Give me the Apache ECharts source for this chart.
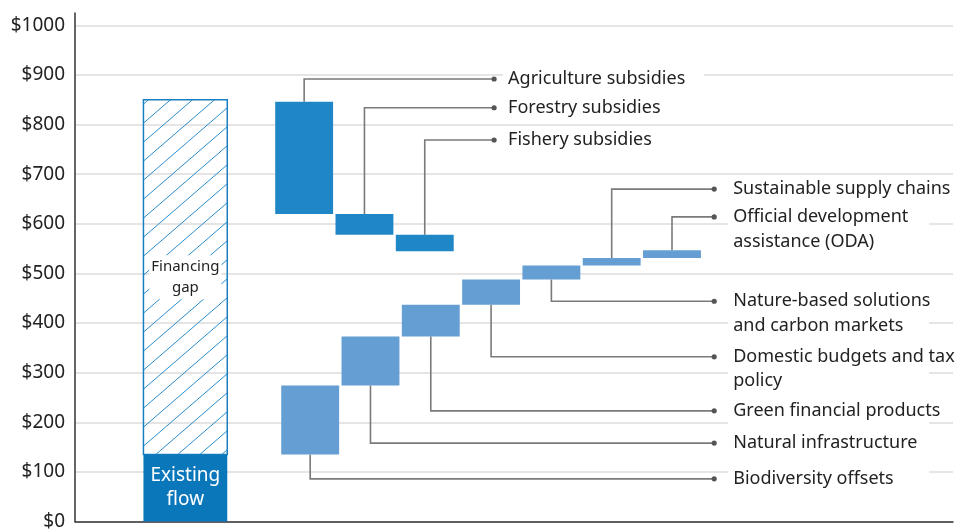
<!DOCTYPE html>
<html>
<head>
<meta charset="utf-8">
<script src="https://cdn.jsdelivr.net/npm/echarts@6/dist/echarts.min.js"></script>
<style>html,body{margin:0;padding:0;background:#fff}#c{width:965px;height:531px}</style>
</head>
<body>
<div id="c"></div>
<script>
// ---------------- data ----------------
const yTickValues = [0, 100, 200, 300, 400, 500, 600, 700, 800, 900, 1000];
const totalNeed = 850;          // total biodiversity finance need
const existingFlow = 135;       // existing flow
const reductionStart = 846;
const reductionNames = ['Agriculture subsidies', 'Forestry subsidies', 'Fishery subsidies'];
const reductionValues = [226, 42, 33];
const flowNames = ['Biodiversity offsets', 'Natural infrastructure', 'Green financial products',
  'Domestic budgets and tax\npolicy', 'Nature-based solutions\nand carbon markets',
  'Sustainable supply chains', 'Official development\nassistance (ODA)'];
const flowValues = [139, 99, 64, 51, 28, 15, 16];

// ---------------- layout (annotation levels in $ units) ----------------
const reductionLabelLevels = [892, 834, 769];
const flowLabelLevels = [86, 158, 223, 332, 444, 670, 614];

// ---------------- build ----------------
const FONT = '"Noto Sans", sans-serif';
const reductionBars = [];
let cur = reductionStart;
reductionValues.forEach((v, i) => {
  reductionBars.push([2.9 + i, cur - v, cur, 0.96]);
  cur -= v;
});
const flowBars = [];
cur = existingFlow;
flowValues.forEach((v, i) => {
  flowBars.push([3 + i, cur, cur + v, 0.96]);
  cur += v;
});

const leaders = [];
reductionBars.forEach((b, i) => leaders.push([b[0], b[1], b[2], reductionLabelLevels[i], 6.05, 9, reductionNames[i]]));
flowBars.forEach((b, i) => leaders.push([b[0], b[1], b[2], flowLabelLevels[i], 9.7, 14, flowNames[i]]));

// hatch pattern
const hc = document.createElement('canvas');
const HW = 22, HH = 19;
hc.width = HW; hc.height = HH;
const hx = hc.getContext('2d');
hx.strokeStyle = '#2a8ccc';
hx.lineWidth = 1;
[-HW, 0, HW].forEach(o => {
  hx.beginPath();
  hx.moveTo(o, HH);
  hx.lineTo(o + HW, 0);
  hx.stroke();
});

function rectItem(api, fill, extra) {
  const x = api.value(0), lo = api.value(1), hi = api.value(2), w = api.value(3);
  const p1 = api.coord([x - w / 2, hi]);
  const p2 = api.coord([x + w / 2, lo]);
  return Object.assign({
    type: 'rect',
    shape: { x: p1[0], y: p1[1], width: p2[0] - p1[0], height: p2[1] - p1[1] },
    style: { fill: fill }
  }, extra || {});
}

const chart = echarts.init(document.getElementById('c'), null, { renderer: 'canvas' });
chart.setOption({
  animation: false,
  backgroundColor: '#fff',
  grid: { left: 75, right: 12, top: 13, bottom: 7, containLabel: false },
  xAxis: {
    type: 'value', min: -0.9, max: 13.66,
    axisLine: { show: true, onZero: false, lineStyle: { color: '#333', width: 1.5 } },
    axisTick: { show: false }, axisLabel: { show: false }, splitLine: { show: false }
  },
  yAxis: {
    type: 'value', min: 0, max: 1025, interval: 100,
    axisLine: { show: true, onZero: false, lineStyle: { color: '#333', width: 1.5 } },
    axisTick: { show: false },
    axisLabel: {
      margin: 10, color: '#222', fontSize: 19, fontFamily: FONT,
      formatter: v => yTickValues.indexOf(v) >= 0 ? '$' + v : ''
    },
    splitLine: { show: true, showMaxLine: false, lineStyle: { color: '#dcdcdc', width: 1.5 } }
  },
  series: [
    {
      type: 'custom', name: 'Financing gap', z: 2,
      data: [[0.93, existingFlow, totalNeed, 1.39]],
      renderItem: (p, api) => {
        const r = rectItem(api, { image: hc, repeat: 'repeat' });
        r.style.stroke = '#1a7fc1';
        r.style.lineWidth = 1.5;
        r.textContent = {
          style: { text: 'Financing\ngap', fill: '#222', font: '15px ' + FONT, lineHeight: 21,
            backgroundColor: '#fff', padding: [1, 2], align: 'center', verticalAlign: 'middle' }
        };
        r.textConfig = { position: 'inside' };
        return r;
      }
    },
    {
      type: 'custom', name: 'Existing flow', z: 3,
      data: [[0.93, 0, existingFlow, 1.39]],
      renderItem: (p, api) => {
        const r = rectItem(api, '#0b77bb');
        r.textContent = {
          style: { text: 'Existing\nflow', fill: '#fff', font: '19px ' + FONT, lineHeight: 24,
            align: 'center', verticalAlign: 'middle' }
        };
        r.textConfig = { position: 'inside' };
        return r;
      }
    },
    {
      type: 'custom', name: 'Reductions', z: 3,
      data: reductionBars,
      renderItem: (p, api) => rectItem(api, '#1f87c6')
    },
    {
      type: 'custom', name: 'New flows', z: 3,
      data: flowBars,
      renderItem: (p, api) => rectItem(api, '#649ed3')
    },
    {
      type: 'custom', name: 'Leaders', z: 4,
      data: leaders,
      renderItem: (p, api) => {
        const x = api.value(0), lo = api.value(1), hi = api.value(2), lvl = api.value(3), xe = api.value(4);
        const gap = api.value(5);
        const name = leaders[p.dataIndex][6];
        const start = api.coord([x, lvl > hi ? hi : lo]);
        const corner = api.coord([x, lvl]);
        const end = api.coord([xe, lvl]);
        const LH = 24.5;
        return {
          type: 'group',
          children: [
            { type: 'polyline', shape: { points: [start, corner, end] },
              style: { stroke: '#7a7a7a', lineWidth: 1.6, fill: null } },
            { type: 'circle', shape: { cx: end[0], cy: end[1], r: 2.6 }, style: { fill: '#555' } },
            { type: 'text', x: end[0] + gap, y: end[1] - LH / 2,
              style: { text: name, fill: '#222', font: '18px ' + FONT, lineHeight: LH,
                backgroundColor: '#fff', width: 196, overflow: 'none', padding: [0, 0, 2, 5],
                align: 'left', verticalAlign: 'top' } }
          ]
        };
      }
    }
  ]
});
</script>
</body>
</html>
